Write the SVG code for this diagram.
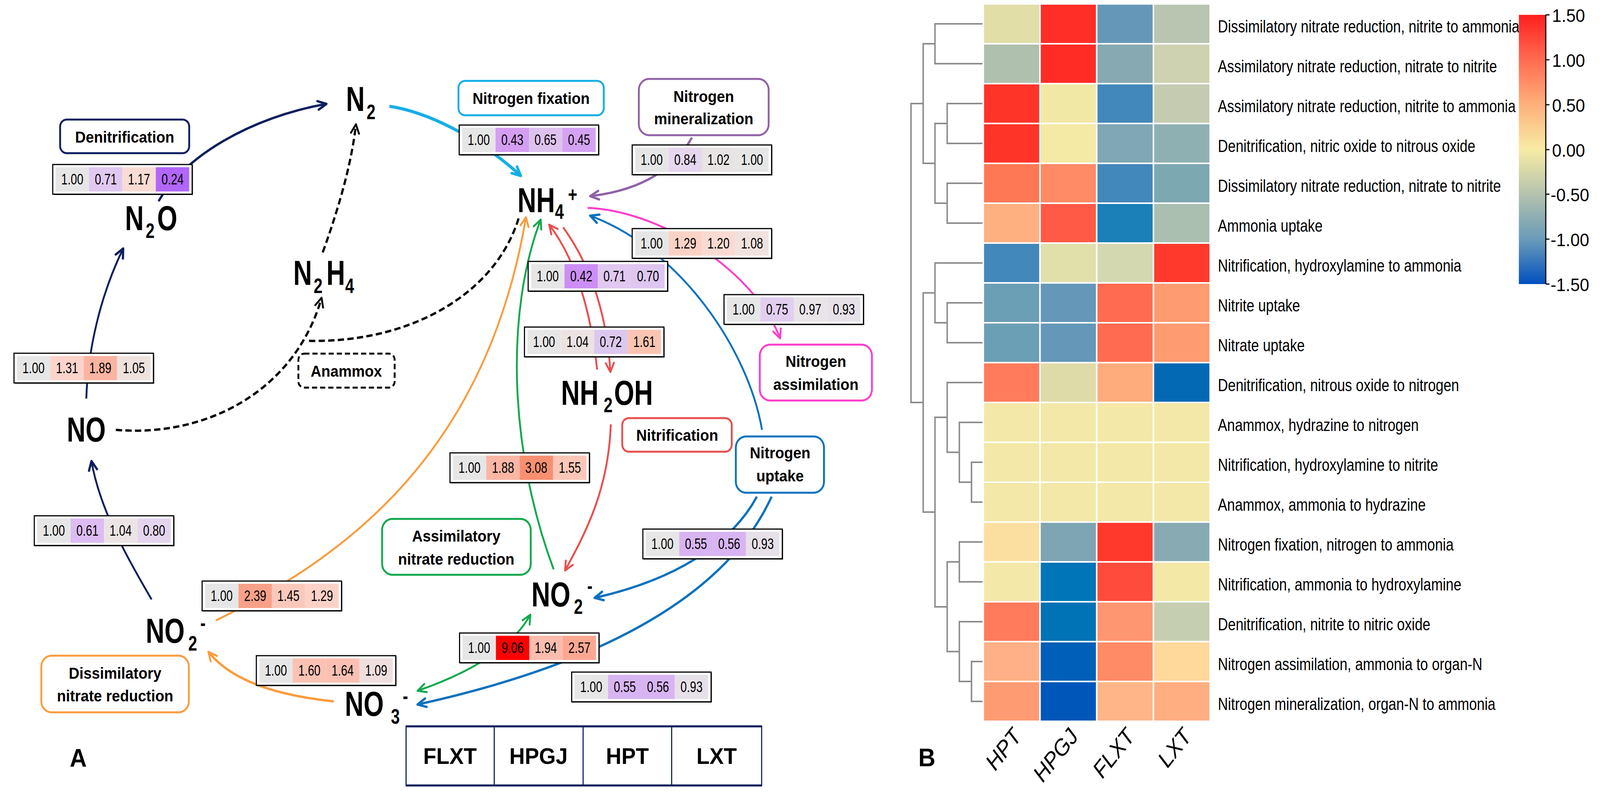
<svg xmlns="http://www.w3.org/2000/svg" width="4338" height="2032" viewBox="0 0 4338 2032">
<style>
text{font-family:"Liberation Sans",Arial,sans-serif;fill:#000}
.lbl{font-weight:bold;font-size:40px;text-anchor:middle}
.num{font-size:38px;text-anchor:middle}
.chem{font-weight:bold;font-size:88px}
.sub{font-size:54px}
.hm{font-size:44px}
.tick{font-size:46px}
.col{font-size:58px;font-style:italic;text-anchor:end}
.pbox{fill:#fff;stroke-width:5}
.dbox{fill:#fff;stroke:#000;stroke-width:3}
.conn path{fill:none}
.dash{stroke:#000;stroke-width:6;stroke-dasharray:17 9}
.dg{stroke:#8c8c8c;stroke-width:4;fill:none}
.hmc rect{stroke:#fff;stroke-width:4}
</style>
<defs>
<rect id="dshadow" x="2" y="2" width="378" height="76" fill="#1a1a1a"/>
<marker id="m-navy" viewBox="0 0 36 30" refX="28" refY="15" markerWidth="36" markerHeight="30" markerUnits="userSpaceOnUse" orient="auto-start-reverse"><path d="M5,4 L28,15 L5,26" fill="none" stroke="#0c1f5e" stroke-width="6" stroke-linecap="round" stroke-linejoin="round"/></marker>
<marker id="m-lblue" viewBox="0 0 36 30" refX="28" refY="15" markerWidth="36" markerHeight="30" markerUnits="userSpaceOnUse" orient="auto-start-reverse"><path d="M5,4 L28,15 L5,26" fill="none" stroke="#14aee6" stroke-width="7" stroke-linecap="round" stroke-linejoin="round"/></marker>
<marker id="m-purple" viewBox="0 0 36 30" refX="28" refY="15" markerWidth="36" markerHeight="30" markerUnits="userSpaceOnUse" orient="auto-start-reverse"><path d="M5,4 L28,15 L5,26" fill="none" stroke="#8f62a8" stroke-width="6" stroke-linecap="round" stroke-linejoin="round"/></marker>
<marker id="m-mag" viewBox="0 0 36 30" refX="28" refY="15" markerWidth="36" markerHeight="30" markerUnits="userSpaceOnUse" orient="auto-start-reverse"><path d="M5,4 L28,15 L5,26" fill="none" stroke="#ff3dcb" stroke-width="5" stroke-linecap="round" stroke-linejoin="round"/></marker>
<marker id="m-blue" viewBox="0 0 36 30" refX="28" refY="15" markerWidth="36" markerHeight="30" markerUnits="userSpaceOnUse" orient="auto-start-reverse"><path d="M5,4 L28,15 L5,26" fill="none" stroke="#0a71be" stroke-width="6" stroke-linecap="round" stroke-linejoin="round"/></marker>
<marker id="m-red" viewBox="0 0 36 30" refX="28" refY="15" markerWidth="36" markerHeight="30" markerUnits="userSpaceOnUse" orient="auto-start-reverse"><path d="M5,4 L28,15 L5,26" fill="none" stroke="#e94f4d" stroke-width="5" stroke-linecap="round" stroke-linejoin="round"/></marker>
<marker id="m-green" viewBox="0 0 36 30" refX="28" refY="15" markerWidth="36" markerHeight="30" markerUnits="userSpaceOnUse" orient="auto-start-reverse"><path d="M5,4 L28,15 L5,26" fill="none" stroke="#10a94c" stroke-width="5" stroke-linecap="round" stroke-linejoin="round"/></marker>
<marker id="m-orange" viewBox="0 0 36 30" refX="28" refY="15" markerWidth="36" markerHeight="30" markerUnits="userSpaceOnUse" orient="auto-start-reverse"><path d="M5,4 L28,15 L5,26" fill="none" stroke="#fa9c3e" stroke-width="5" stroke-linecap="round" stroke-linejoin="round"/></marker>
<marker id="m-black" viewBox="0 0 36 30" refX="28" refY="15" markerWidth="36" markerHeight="30" markerUnits="userSpaceOnUse" orient="auto-start-reverse"><path d="M5,4 L28,15 L5,26" fill="none" stroke="#000" stroke-width="5" stroke-linecap="round" stroke-linejoin="round"/></marker>
<linearGradient id="cbar" x1="0" y1="0" x2="0" y2="1">
<stop offset="0" stop-color="#ff1f1f"/><stop offset="0.1667" stop-color="#ff6b50"/><stop offset="0.3333" stop-color="#ffb07c"/><stop offset="0.5" stop-color="#f7eba4"/><stop offset="0.6667" stop-color="#b4c2ae"/><stop offset="0.8333" stop-color="#6a9bb8"/><stop offset="1" stop-color="#0050c0"/>
</linearGradient>
</defs>
<rect width="4338" height="2032" fill="#fff"/>
<g id="figure" transform="scale(0.944214 1)">

<!-- ===== Panel A connectors ===== -->
<g id="connectors" class="conn">
<path d="M430,515 C500,400 680,300 885,266" stroke="#0c1f5e" stroke-width="6" marker-end="url(#m-navy)"/>
<path d="M234,1020 C238,900 270,760 334,636" stroke="#0c1f5e" stroke-width="5" marker-end="url(#m-navy)"/>
<path d="M411,1534 C340,1420 270,1300 248,1180" stroke="#0c1f5e" stroke-width="5" marker-end="url(#m-navy)"/>
<path d="M1056,272 C1180,290 1320,370 1412,450" stroke="#14aee6" stroke-width="8" marker-end="url(#m-lblue)"/>
<path d="M1876,352 Q1800,480 1600,502" stroke="#8f62a8" stroke-width="6" marker-end="url(#m-purple)"/>
<path d="M1593,532 C1800,540 2050,700 2115,866" stroke="#ff3dcb" stroke-width="5" marker-end="url(#m-mag)"/>
<path d="M2066,1100 C2030,900 1850,640 1600,552" stroke="#0a71be" stroke-width="5" marker-end="url(#m-blue)"/>
<path d="M2052,1271 C1990,1380 1850,1480 1612,1530" stroke="#0a71be" stroke-width="6" marker-end="url(#m-blue)"/>
<path d="M2092,1271 C2020,1420 1820,1660 1132,1803" stroke="#0a71be" stroke-width="6" marker-end="url(#m-blue)"/>
<path d="M1619,946 Q1590,700 1489,575" stroke="#e94f4d" stroke-width="5" marker-end="url(#m-red)"/>
<path d="M1527,582 Q1640,730 1655,952" stroke="#e94f4d" stroke-width="5" marker-end="url(#m-red)"/>
<path d="M1656,1086 C1650,1250 1590,1360 1532,1460" stroke="#e94f4d" stroke-width="5" marker-end="url(#m-red)"/>
<path d="M1501,1457 C1380,1150 1370,800 1466,562" stroke="#10a94c" stroke-width="5" marker-end="url(#m-green)"/>
<path d="M1132,1768 Q1370,1690 1438,1573" stroke="#10a94c" stroke-width="5" marker-start="url(#m-green)" marker-end="url(#m-green)"/>
<path d="M905,1795 Q650,1770 565,1668" stroke="#fa9c3e" stroke-width="6" marker-end="url(#m-orange)"/>
<path d="M585,1588 C950,1420 1320,1150 1426,556" stroke="#fa9c3e" stroke-width="5" marker-end="url(#m-orange)"/>
<path class="dash" d="M314,1100 C560,1120 800,1000 872,762" marker-end="url(#m-black)"/>
<path class="dash" d="M1406,559 C1340,760 1100,880 830,872"/>
<path class="dash" d="M875,646 Q950,450 965,318" marker-end="url(#m-black)"/>
</g>

<!-- ===== Data boxes ===== -->
<g id="d-denit" transform="translate(143,421)"><use href="#dshadow"/><rect class="dbox" width="378" height="76"/><rect x="8" y="7" width="90.5" height="62" fill="#e6e6e6"/><rect x="98.5" y="7" width="90.5" height="62" fill="#e0c8f0"/><rect x="189" y="7" width="90.5" height="62" fill="#f9dcd4"/><rect x="279.5" y="7" width="90.5" height="62" fill="#b266fa"/><text class="num" x="53" y="51" textLength="60" lengthAdjust="spacingAndGlyphs">1.00</text><text class="num" x="144" y="51" textLength="60" lengthAdjust="spacingAndGlyphs">0.71</text><text class="num" x="234" y="51" textLength="60" lengthAdjust="spacingAndGlyphs">1.17</text><text class="num" x="325" y="51" textLength="60" lengthAdjust="spacingAndGlyphs">0.24</text></g>
<g id="d-fix" transform="translate(1245,320)"><use href="#dshadow"/><rect class="dbox" width="378" height="76"/><rect x="8" y="7" width="90.5" height="62" fill="#e6e6e6"/><rect x="98.5" y="7" width="90.5" height="62" fill="#d49ef2"/><rect x="189" y="7" width="90.5" height="62" fill="#dec2ee"/><rect x="279.5" y="7" width="90.5" height="62" fill="#d4a2f2"/><text class="num" x="53" y="51" textLength="60" lengthAdjust="spacingAndGlyphs">1.00</text><text class="num" x="144" y="51" textLength="60" lengthAdjust="spacingAndGlyphs">0.43</text><text class="num" x="234" y="51" textLength="60" lengthAdjust="spacingAndGlyphs">0.65</text><text class="num" x="325" y="51" textLength="60" lengthAdjust="spacingAndGlyphs">0.45</text></g>
<g id="d-min" transform="translate(1714,371)"><use href="#dshadow"/><rect class="dbox" width="378" height="76"/><rect x="8" y="7" width="90.5" height="62" fill="#e6e6e6"/><rect x="98.5" y="7" width="90.5" height="62" fill="#e6d6ee"/><rect x="189" y="7" width="90.5" height="62" fill="#e8e4e4"/><rect x="279.5" y="7" width="90.5" height="62" fill="#e6e6e6"/><text class="num" x="53" y="51" textLength="60" lengthAdjust="spacingAndGlyphs">1.00</text><text class="num" x="144" y="51" textLength="60" lengthAdjust="spacingAndGlyphs">0.84</text><text class="num" x="234" y="51" textLength="60" lengthAdjust="spacingAndGlyphs">1.02</text><text class="num" x="325" y="51" textLength="60" lengthAdjust="spacingAndGlyphs">1.00</text></g>
<g id="d-no-n2o" transform="translate(38,904)"><use href="#dshadow"/><rect class="dbox" width="378" height="76"/><rect x="8" y="7" width="90.5" height="62" fill="#e6e6e6"/><rect x="98.5" y="7" width="90.5" height="62" fill="#fcd4cc"/><rect x="189" y="7" width="90.5" height="62" fill="#fbb4a2"/><rect x="279.5" y="7" width="90.5" height="62" fill="#ede2de"/><text class="num" x="53" y="51" textLength="60" lengthAdjust="spacingAndGlyphs">1.00</text><text class="num" x="144" y="51" textLength="60" lengthAdjust="spacingAndGlyphs">1.31</text><text class="num" x="234" y="51" textLength="60" lengthAdjust="spacingAndGlyphs">1.89</text><text class="num" x="325" y="51" textLength="60" lengthAdjust="spacingAndGlyphs">1.05</text></g>
<g id="d-upt-nh4" transform="translate(1714,585)"><use href="#dshadow"/><rect class="dbox" width="378" height="76"/><rect x="8" y="7" width="90.5" height="62" fill="#e6e6e6"/><rect x="98.5" y="7" width="90.5" height="62" fill="#fbd2c6"/><rect x="189" y="7" width="90.5" height="62" fill="#fadad2"/><rect x="279.5" y="7" width="90.5" height="62" fill="#f0e2de"/><text class="num" x="53" y="51" textLength="60" lengthAdjust="spacingAndGlyphs">1.00</text><text class="num" x="144" y="51" textLength="60" lengthAdjust="spacingAndGlyphs">1.29</text><text class="num" x="234" y="51" textLength="60" lengthAdjust="spacingAndGlyphs">1.20</text><text class="num" x="325" y="51" textLength="60" lengthAdjust="spacingAndGlyphs">1.08</text></g>
<g id="d-nh2oh-nh4" transform="translate(1432,669)"><use href="#dshadow"/><rect class="dbox" width="378" height="76"/><rect x="8" y="7" width="90.5" height="62" fill="#e6e6e6"/><rect x="98.5" y="7" width="90.5" height="62" fill="#cc8ef6"/><rect x="189" y="7" width="90.5" height="62" fill="#e0c8f0"/><rect x="279.5" y="7" width="90.5" height="62" fill="#dec6f0"/><text class="num" x="53" y="51" textLength="60" lengthAdjust="spacingAndGlyphs">1.00</text><text class="num" x="144" y="51" textLength="60" lengthAdjust="spacingAndGlyphs">0.42</text><text class="num" x="234" y="51" textLength="60" lengthAdjust="spacingAndGlyphs">0.71</text><text class="num" x="325" y="51" textLength="60" lengthAdjust="spacingAndGlyphs">0.70</text></g>
<g id="d-assim" transform="translate(1963,754)"><use href="#dshadow"/><rect class="dbox" width="378" height="76"/><rect x="8" y="7" width="90.5" height="62" fill="#e6e6e6"/><rect x="98.5" y="7" width="90.5" height="62" fill="#e2cef0"/><rect x="189" y="7" width="90.5" height="62" fill="#e8e4e8"/><rect x="279.5" y="7" width="90.5" height="62" fill="#e6e0e8"/><text class="num" x="53" y="51" textLength="60" lengthAdjust="spacingAndGlyphs">1.00</text><text class="num" x="144" y="51" textLength="60" lengthAdjust="spacingAndGlyphs">0.75</text><text class="num" x="234" y="51" textLength="60" lengthAdjust="spacingAndGlyphs">0.97</text><text class="num" x="325" y="51" textLength="60" lengthAdjust="spacingAndGlyphs">0.93</text></g>
<g id="d-nh4-nh2oh" transform="translate(1422,837)"><use href="#dshadow"/><rect class="dbox" width="378" height="76"/><rect x="8" y="7" width="90.5" height="62" fill="#e6e6e6"/><rect x="98.5" y="7" width="90.5" height="62" fill="#ece2e2"/><rect x="189" y="7" width="90.5" height="62" fill="#dcc8ee"/><rect x="279.5" y="7" width="90.5" height="62" fill="#fbc4b2"/><text class="num" x="53" y="51" textLength="60" lengthAdjust="spacingAndGlyphs">1.00</text><text class="num" x="144" y="51" textLength="60" lengthAdjust="spacingAndGlyphs">1.04</text><text class="num" x="234" y="51" textLength="60" lengthAdjust="spacingAndGlyphs">0.72</text><text class="num" x="325" y="51" textLength="60" lengthAdjust="spacingAndGlyphs">1.61</text></g>
<g id="d-ano2-nh4" transform="translate(1220,1159)"><use href="#dshadow"/><rect class="dbox" width="378" height="76"/><rect x="8" y="7" width="90.5" height="62" fill="#e6e6e6"/><rect x="98.5" y="7" width="90.5" height="62" fill="#fbb6a4"/><rect x="189" y="7" width="90.5" height="62" fill="#f88f70"/><rect x="279.5" y="7" width="90.5" height="62" fill="#fcc6b8"/><text class="num" x="53" y="51" textLength="60" lengthAdjust="spacingAndGlyphs">1.00</text><text class="num" x="144" y="51" textLength="60" lengthAdjust="spacingAndGlyphs">1.88</text><text class="num" x="234" y="51" textLength="60" lengthAdjust="spacingAndGlyphs">3.08</text><text class="num" x="325" y="51" textLength="60" lengthAdjust="spacingAndGlyphs">1.55</text></g>
<g id="d-no2-no" transform="translate(93,1320)"><use href="#dshadow"/><rect class="dbox" width="378" height="76"/><rect x="8" y="7" width="90.5" height="62" fill="#e6e6e6"/><rect x="98.5" y="7" width="90.5" height="62" fill="#dcbcf2"/><rect x="189" y="7" width="90.5" height="62" fill="#ece4e4"/><rect x="279.5" y="7" width="90.5" height="62" fill="#e4d4ee"/><text class="num" x="53" y="51" textLength="60" lengthAdjust="spacingAndGlyphs">1.00</text><text class="num" x="144" y="51" textLength="60" lengthAdjust="spacingAndGlyphs">0.61</text><text class="num" x="234" y="51" textLength="60" lengthAdjust="spacingAndGlyphs">1.04</text><text class="num" x="325" y="51" textLength="60" lengthAdjust="spacingAndGlyphs">0.80</text></g>
<g id="d-upt-no2" transform="translate(1743,1354)"><use href="#dshadow"/><rect class="dbox" width="378" height="76"/><rect x="8" y="7" width="90.5" height="62" fill="#e6e6e6"/><rect x="98.5" y="7" width="90.5" height="62" fill="#d8b4f2"/><rect x="189" y="7" width="90.5" height="62" fill="#d8b4f2"/><rect x="279.5" y="7" width="90.5" height="62" fill="#e6e0e8"/><text class="num" x="53" y="51" textLength="60" lengthAdjust="spacingAndGlyphs">1.00</text><text class="num" x="144" y="51" textLength="60" lengthAdjust="spacingAndGlyphs">0.55</text><text class="num" x="234" y="51" textLength="60" lengthAdjust="spacingAndGlyphs">0.56</text><text class="num" x="325" y="51" textLength="60" lengthAdjust="spacingAndGlyphs">0.93</text></g>
<g id="d-dno2-nh4" transform="translate(548,1487)"><use href="#dshadow"/><rect class="dbox" width="378" height="76"/><rect x="8" y="7" width="90.5" height="62" fill="#e6e6e6"/><rect x="98.5" y="7" width="90.5" height="62" fill="#f9a088"/><rect x="189" y="7" width="90.5" height="62" fill="#fcc8bc"/><rect x="279.5" y="7" width="90.5" height="62" fill="#fcd2c8"/><text class="num" x="53" y="51" textLength="60" lengthAdjust="spacingAndGlyphs">1.00</text><text class="num" x="144" y="51" textLength="60" lengthAdjust="spacingAndGlyphs">2.39</text><text class="num" x="234" y="51" textLength="60" lengthAdjust="spacingAndGlyphs">1.45</text><text class="num" x="325" y="51" textLength="60" lengthAdjust="spacingAndGlyphs">1.29</text></g>
<g id="d-ano3-no2" transform="translate(1246,1620)"><use href="#dshadow"/><rect class="dbox" width="378" height="76"/><rect x="8" y="7" width="90.5" height="62" fill="#e6e6e6"/><rect x="98.5" y="7" width="90.5" height="62" fill="#ff0000"/><rect x="189" y="7" width="90.5" height="62" fill="#fcbcae"/><rect x="279.5" y="7" width="90.5" height="62" fill="#fba892"/><text class="num" x="53" y="51" textLength="60" lengthAdjust="spacingAndGlyphs">1.00</text><text class="num" x="144" y="51" textLength="60" lengthAdjust="spacingAndGlyphs">9.06</text><text class="num" x="234" y="51" textLength="60" lengthAdjust="spacingAndGlyphs">1.94</text><text class="num" x="325" y="51" textLength="60" lengthAdjust="spacingAndGlyphs">2.57</text></g>
<g id="d-dno3-no2" transform="translate(695,1678)"><use href="#dshadow"/><rect class="dbox" width="378" height="76"/><rect x="8" y="7" width="90.5" height="62" fill="#e6e6e6"/><rect x="98.5" y="7" width="90.5" height="62" fill="#fcc2b4"/><rect x="189" y="7" width="90.5" height="62" fill="#fcc0b2"/><rect x="279.5" y="7" width="90.5" height="62" fill="#f0dede"/><text class="num" x="53" y="51" textLength="60" lengthAdjust="spacingAndGlyphs">1.00</text><text class="num" x="144" y="51" textLength="60" lengthAdjust="spacingAndGlyphs">1.60</text><text class="num" x="234" y="51" textLength="60" lengthAdjust="spacingAndGlyphs">1.64</text><text class="num" x="325" y="51" textLength="60" lengthAdjust="spacingAndGlyphs">1.09</text></g>
<g id="d-upt-no3" transform="translate(1550,1720)"><use href="#dshadow"/><rect class="dbox" width="378" height="76"/><rect x="8" y="7" width="90.5" height="62" fill="#e6e6e6"/><rect x="98.5" y="7" width="90.5" height="62" fill="#d8b4f2"/><rect x="189" y="7" width="90.5" height="62" fill="#d8b4f2"/><rect x="279.5" y="7" width="90.5" height="62" fill="#e6e0e8"/><text class="num" x="53" y="51" textLength="60" lengthAdjust="spacingAndGlyphs">1.00</text><text class="num" x="144" y="51" textLength="60" lengthAdjust="spacingAndGlyphs">0.55</text><text class="num" x="234" y="51" textLength="60" lengthAdjust="spacingAndGlyphs">0.56</text><text class="num" x="325" y="51" textLength="60" lengthAdjust="spacingAndGlyphs">0.93</text></g>

<!-- ===== Process label boxes ===== -->
<g id="p-denit"><rect class="pbox" x="163" y="306" width="350" height="86" rx="18" stroke="#0c1f5e"/><text class="lbl" x="338" y="365">Denitrification</text></g>
<g id="p-fix"><rect class="pbox" x="1243" y="207" width="394" height="88" rx="18" stroke="#14aee6"/><text class="lbl" x="1440" y="266">Nitrogen fixation</text></g>
<g id="p-min"><rect class="pbox" x="1732" y="202" width="352" height="144" rx="28" stroke="#8f62a8"/><text class="lbl" x="1908" y="261">Nitrogen</text><text class="lbl" x="1908" y="318">mineralization</text></g>
<g id="p-anammox"><rect x="809" y="905" width="261" height="87" rx="16" fill="#fff" stroke="#000" stroke-width="5" stroke-dasharray="14 8"/><text class="lbl" x="939" y="964">Anammox</text></g>
<g id="p-assim"><rect class="pbox" x="2060" y="882" width="304" height="143" rx="28" stroke="#ff3dcb"/><text class="lbl" x="2212" y="939">Nitrogen</text><text class="lbl" x="2212" y="998">assimilation</text></g>
<g id="p-nitr"><rect class="pbox" x="1687" y="1070" width="297" height="86" rx="18" stroke="#e94f4d"/><text class="lbl" x="1836" y="1128">Nitrification</text></g>
<g id="p-uptake"><rect class="pbox" x="1995" y="1117" width="239" height="144" rx="28" stroke="#0a71be"/><text class="lbl" x="2115" y="1173">Nitrogen</text><text class="lbl" x="2115" y="1232">uptake</text></g>
<g id="p-anr"><rect class="pbox" x="1036" y="1328" width="403" height="143" rx="28" stroke="#10a94c"/><text class="lbl" x="1237" y="1386">Assimilatory</text><text class="lbl" x="1237" y="1445">nitrate reduction</text></g>
<g id="p-dnr"><rect class="pbox" x="112" y="1678" width="400" height="145" rx="28" stroke="#fa9c3e"/><text class="lbl" x="312" y="1737">Dissimilatory</text><text class="lbl" x="312" y="1795">nitrate reduction</text></g>

<!-- ===== Chemical species nodes ===== -->
<g id="n-n2"><text class="chem" transform="scale(0.8 1)"><tspan x="1172.5" y="284">N</tspan><tspan class="sub" x="1242.5" y="305">2</tspan></text></g>
<g id="n-n2o"><text class="chem" transform="scale(0.8 1)"><tspan x="423.75" y="589">N</tspan><tspan class="sub" x="493.75" y="609">2</tspan><tspan x="532.5" y="589">O</tspan></text></g>
<g id="n-nh4"><text class="chem" transform="scale(0.8 1)"><tspan x="1753.75" y="543">NH</tspan><tspan class="sub" x="1881" y="560">4</tspan><tspan class="sub" x="1925" y="516">+</tspan></text></g>
<g id="n-n2h4"><text class="chem" transform="scale(0.8 1)"><tspan x="993.75" y="729">N</tspan><tspan class="sub" x="1063" y="750">2</tspan><tspan x="1106" y="729">H</tspan><tspan class="sub" x="1170" y="750">4</tspan></text></g>
<g id="n-nh2oh"><text class="chem" transform="scale(0.8 1)"><tspan x="1901.25" y="1036">NH</tspan><tspan class="sub" x="2046" y="1055">2</tspan><tspan x="2081" y="1036">OH</tspan></text></g>
<g id="n-no"><text class="chem" transform="scale(0.8 1)"><tspan x="226.25" y="1130">NO</tspan></text></g>
<g id="n-no2-left"><text class="chem" transform="scale(0.8 1)"><tspan x="493.75" y="1645">NO</tspan><tspan class="sub" x="638" y="1665">2</tspan><tspan class="sub" x="678.75" y="1613">-</tspan></text></g>
<g id="n-no2-right"><text class="chem" transform="scale(0.8 1)"><tspan x="1801.25" y="1552">NO</tspan><tspan class="sub" x="1945" y="1571">2</tspan><tspan class="sub" x="1990" y="1518">-</tspan></text></g>
<g id="n-no3"><text class="chem" transform="scale(0.8 1)"><tspan x="1168.75" y="1832">NO</tspan><tspan class="sub" x="1325" y="1852">3</tspan><tspan class="sub" x="1365" y="1800">-</tspan></text></g>

<!-- ===== Legend table ===== -->
<g id="legend-table">
<rect x="1101" y="1858" width="964" height="153" fill="#fff" stroke="#0c1f5e" stroke-width="3"/>
<line x1="1101" y1="1859" x2="2065" y2="1859" stroke="#0c1f5e" stroke-width="5"/>
<line x1="1101" y1="2010" x2="2065" y2="2010" stroke="#0c1f5e" stroke-width="5"/>
<line x1="1340" y1="1858" x2="1340" y2="2011" stroke="#0c1f5e" stroke-width="3"/>
<line x1="1581" y1="1858" x2="1581" y2="2011" stroke="#0c1f5e" stroke-width="3"/>
<line x1="1821" y1="1858" x2="1821" y2="2011" stroke="#0c1f5e" stroke-width="3"/>
<text x="1220" y="1955" font-size="58" font-weight="bold" text-anchor="middle">FLXT</text>
<text x="1460" y="1955" font-size="58" font-weight="bold" text-anchor="middle">HPGJ</text>
<text x="1701" y="1955" font-size="58" font-weight="bold" text-anchor="middle">HPT</text>
<text x="1943" y="1955" font-size="58" font-weight="bold" text-anchor="middle">LXT</text>
</g>
<text id="label-A" x="189" y="1962" font-size="64" font-weight="bold">A</text>

<!-- ===== Panel B: dendrogram ===== -->
<g id="dendrogram" class="dg">
<path d="M2664,61 H2535 V163 H2664"/>
<path d="M2664,265 H2568 V367 H2664"/>
<path d="M2664,469 H2568 V571 H2664"/>
<path d="M2568,316 H2535 V520 H2568"/>
<path d="M2535,112 H2503 V418 H2535"/>
<path d="M2664,775 H2568 V877 H2664"/>
<path d="M2664,673 H2535 V826 H2568"/>
<path d="M2664,1183 H2634 V1285 H2664"/>
<path d="M2664,1081 H2601 V1234 H2634"/>
<path d="M2664,979 H2568 V1157.5 H2601"/>
<path d="M2664,1387 H2601 V1489 H2664"/>
<path d="M2664,1693 H2634 V1795 H2664"/>
<path d="M2664,1591 H2601 V1744 H2634"/>
<path d="M2601,1438 H2568 V1667.5 H2601"/>
<path d="M2568,1068 H2535 V1553 H2568"/>
<path d="M2535,749.5 H2503 V1310.5 H2535"/>
<path d="M2503,265 H2470 V1030 H2503"/>
</g>

<!-- ===== Panel B: heatmap ===== -->
<g id="heatmap" class="hmc">
<rect x="2666" y="10" width="153.75" height="102" fill="#e2dea8"/><rect x="2819.75" y="10" width="153.75" height="102" fill="#ff2e26"/><rect x="2973.5" y="10" width="153.75" height="102" fill="#6598b8"/><rect x="3127.25" y="10" width="153.75" height="102" fill="#b9c5b0"/>
<rect x="2666" y="112" width="153.75" height="102" fill="#afc1ae"/><rect x="2819.75" y="112" width="153.75" height="102" fill="#ff2b25"/><rect x="2973.5" y="112" width="153.75" height="102" fill="#87a9b1"/><rect x="3127.25" y="112" width="153.75" height="102" fill="#ced2b0"/>
<rect x="2666" y="214" width="153.75" height="102" fill="#ff3429"/><rect x="2819.75" y="214" width="153.75" height="102" fill="#f2e8a6"/><rect x="2973.5" y="214" width="153.75" height="102" fill="#4388ba"/><rect x="3127.25" y="214" width="153.75" height="102" fill="#c4cbb0"/>
<rect x="2666" y="316" width="153.75" height="102" fill="#ff3429"/><rect x="2819.75" y="316" width="153.75" height="102" fill="#f4e9a5"/><rect x="2973.5" y="316" width="153.75" height="102" fill="#7fa7b5"/><rect x="3127.25" y="316" width="153.75" height="102" fill="#8fb0b2"/>
<rect x="2666" y="418" width="153.75" height="102" fill="#ff7856"/><rect x="2819.75" y="418" width="153.75" height="102" fill="#ff8a66"/><rect x="2973.5" y="418" width="153.75" height="102" fill="#4388ba"/><rect x="3127.25" y="418" width="153.75" height="102" fill="#7ca8b2"/>
<rect x="2666" y="520" width="153.75" height="102" fill="#ffb081"/><rect x="2819.75" y="520" width="153.75" height="102" fill="#ff5a45"/><rect x="2973.5" y="520" width="153.75" height="102" fill="#1b7fb8"/><rect x="3127.25" y="520" width="153.75" height="102" fill="#aabfb0"/>
<rect x="2666" y="622" width="153.75" height="102" fill="#4388ba"/><rect x="2819.75" y="622" width="153.75" height="102" fill="#e1dfaa"/><rect x="2973.5" y="622" width="153.75" height="102" fill="#d4d8b1"/><rect x="3127.25" y="622" width="153.75" height="102" fill="#ff3a2c"/>
<rect x="2666" y="724" width="153.75" height="102" fill="#6b9fb5"/><rect x="2819.75" y="724" width="153.75" height="102" fill="#6597b8"/><rect x="2973.5" y="724" width="153.75" height="102" fill="#ff6b50"/><rect x="3127.25" y="724" width="153.75" height="102" fill="#ff9b70"/>
<rect x="2666" y="826" width="153.75" height="102" fill="#6b9fb5"/><rect x="2819.75" y="826" width="153.75" height="102" fill="#6597b8"/><rect x="2973.5" y="826" width="153.75" height="102" fill="#ff6b50"/><rect x="3127.25" y="826" width="153.75" height="102" fill="#ff9b70"/>
<rect x="2666" y="928" width="153.75" height="102" fill="#ff7b5b"/><rect x="2819.75" y="928" width="153.75" height="102" fill="#dfdba9"/><rect x="2973.5" y="928" width="153.75" height="102" fill="#ffac7d"/><rect x="3127.25" y="928" width="153.75" height="102" fill="#0369b5"/>
<rect x="2666" y="1030" width="153.75" height="102" fill="#f3e8a7"/><rect x="2819.75" y="1030" width="153.75" height="102" fill="#f3e8a7"/><rect x="2973.5" y="1030" width="153.75" height="102" fill="#f3e8a7"/><rect x="3127.25" y="1030" width="153.75" height="102" fill="#f3e8a7"/>
<rect x="2666" y="1132" width="153.75" height="102" fill="#f3e8a7"/><rect x="2819.75" y="1132" width="153.75" height="102" fill="#f3e8a7"/><rect x="2973.5" y="1132" width="153.75" height="102" fill="#f3e8a7"/><rect x="3127.25" y="1132" width="153.75" height="102" fill="#f3e8a7"/>
<rect x="2666" y="1234" width="153.75" height="102" fill="#f3e8a7"/><rect x="2819.75" y="1234" width="153.75" height="102" fill="#f3e8a7"/><rect x="2973.5" y="1234" width="153.75" height="102" fill="#f3e8a7"/><rect x="3127.25" y="1234" width="153.75" height="102" fill="#f3e8a7"/>
<rect x="2666" y="1336" width="153.75" height="102" fill="#fbdfa0"/><rect x="2819.75" y="1336" width="153.75" height="102" fill="#7ea5b3"/><rect x="2973.5" y="1336" width="153.75" height="102" fill="#ff3a2c"/><rect x="3127.25" y="1336" width="153.75" height="102" fill="#88abb3"/>
<rect x="2666" y="1438" width="153.75" height="102" fill="#f4e8a8"/><rect x="2819.75" y="1438" width="153.75" height="102" fill="#0075b8"/><rect x="2973.5" y="1438" width="153.75" height="102" fill="#ff4b3b"/><rect x="3127.25" y="1438" width="153.75" height="102" fill="#f3e8a6"/>
<rect x="2666" y="1540" width="153.75" height="102" fill="#ff7b5b"/><rect x="2819.75" y="1540" width="153.75" height="102" fill="#0072b6"/><rect x="2973.5" y="1540" width="153.75" height="102" fill="#ff9672"/><rect x="3127.25" y="1540" width="153.75" height="102" fill="#c6ceb2"/>
<rect x="2666" y="1642" width="153.75" height="102" fill="#ffb086"/><rect x="2819.75" y="1642" width="153.75" height="102" fill="#005fb8"/><rect x="2973.5" y="1642" width="153.75" height="102" fill="#ff8a66"/><rect x="3127.25" y="1642" width="153.75" height="102" fill="#ffd89c"/>
<rect x="2666" y="1744" width="153.75" height="102" fill="#ff9b73"/><rect x="2819.75" y="1744" width="153.75" height="102" fill="#0057ba"/><rect x="2973.5" y="1744" width="153.75" height="102" fill="#ffb588"/><rect x="3127.25" y="1744" width="153.75" height="102" fill="#ffae81"/>
</g>

<g id="row-labels" transform="translate(3302,0) scale(0.86 1)">
<text class="hm" x="0" y="83">Dissimilatory nitrate reduction, nitrite to ammonia</text>
<text class="hm" x="0" y="185">Assimilatory nitrate reduction, nitrate to nitrite</text>
<text class="hm" x="0" y="287">Assimilatory nitrate reduction, nitrite to ammonia</text>
<text class="hm" x="0" y="389">Denitrification, nitric oxide to nitrous oxide</text>
<text class="hm" x="0" y="491">Dissimilatory nitrate reduction, nitrate to nitrite</text>
<text class="hm" x="0" y="593">Ammonia uptake</text>
<text class="hm" x="0" y="695">Nitrification, hydroxylamine to ammonia</text>
<text class="hm" x="0" y="797">Nitrite uptake</text>
<text class="hm" x="0" y="899">Nitrate uptake</text>
<text class="hm" x="0" y="1001">Denitrification, nitrous oxide to nitrogen</text>
<text class="hm" x="0" y="1103">Anammox, hydrazine to nitrogen</text>
<text class="hm" x="0" y="1205">Nitrification, hydroxylamine to nitrite</text>
<text class="hm" x="0" y="1307">Anammox, ammonia to hydrazine</text>
<text class="hm" x="0" y="1409">Nitrogen fixation, nitrogen to ammonia</text>
<text class="hm" x="0" y="1511">Nitrification, ammonia to hydroxylamine</text>
<text class="hm" x="0" y="1613">Denitrification, nitrite to nitric oxide</text>
<text class="hm" x="0" y="1715">Nitrogen assimilation, ammonia to organ-N</text>
<text class="hm" x="0" y="1817">Nitrogen mineralization, organ-N to ammonia</text>
</g>

<g id="col-labels">
<text class="col" transform="translate(2773,1886) rotate(-50)">HPT</text>
<text class="col" transform="translate(2927,1886) rotate(-50)">HPGJ</text>
<text class="col" transform="translate(3080,1886) rotate(-50)">FLXT</text>
<text class="col" transform="translate(3234,1886) rotate(-50)">LXT</text>
</g>
<text id="label-B" x="2490" y="1961" font-size="64" font-weight="bold">B</text>

<g id="colorbar">
<rect x="4118" y="38" width="73" height="689" fill="url(#cbar)"/>
<path d="M4191,38 V727 M4191,38 H4201 M4191,153 H4201 M4191,268 H4201 M4191,383 H4201 M4191,497 H4201 M4191,612 H4201 M4191,727 H4201" stroke="#000" stroke-width="3" fill="none"/>
<text class="tick" x="4208" y="56">1.50</text>
<text class="tick" x="4208" y="171">1.00</text>
<text class="tick" x="4208" y="286">0.50</text>
<text class="tick" x="4208" y="401">0.00</text>
<text class="tick" x="4204" y="515">-0.50</text>
<text class="tick" x="4204" y="630">-1.00</text>
<text class="tick" x="4204" y="745">-1.50</text>
</g>
</g>
</svg>
